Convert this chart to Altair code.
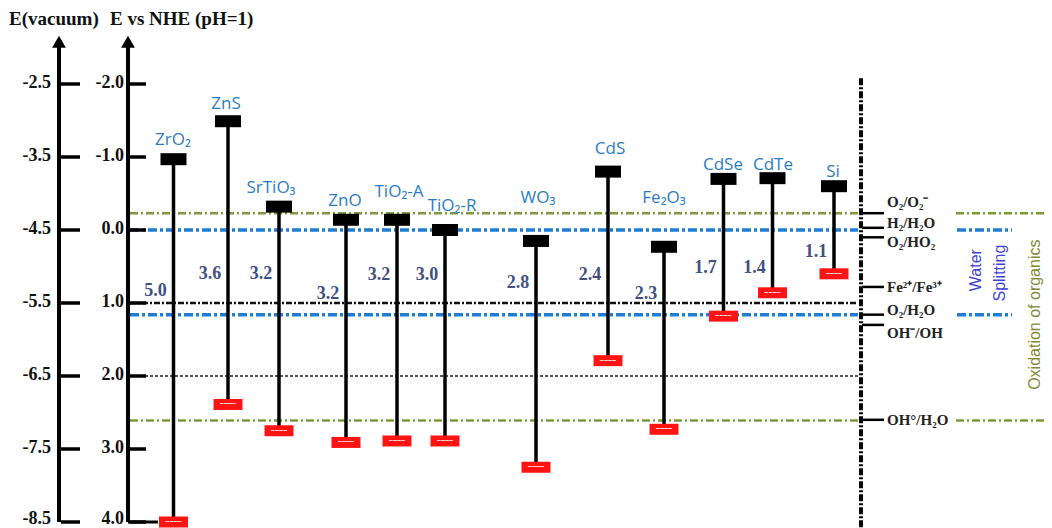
import altair as alt
import pandas as pd

# ---------------- data ----------------
materials = ["ZrO₂", "ZnS", "SrTiO₃", "ZnO", "TiO₂-A", "TiO₂-R", "WO₃", "CdS", "Fe₂O₃", "CdSe", "CdTe", "Si"]
cb_nhe = [-0.97, -1.49, -0.32, -0.14, -0.14, 0.00, 0.15, -0.80, 0.23, -0.70, -0.71, -0.60]
vb_nhe = [4.00, 2.39, 2.75, 2.91, 2.89, 2.89, 3.25, 1.79, 2.73, 1.18, 0.86, 0.60]
gap_text = ["5.0", "3.6", "3.2", "3.2", "3.2", "3.0", "2.8", "2.4", "2.3", "1.7", "1.4", "1.1"]

nhe_ticks = [-2, -1, 0, 1, 2, 3, 4]
nhe_labels = ["-2.0", "-1.0", "0.0", "1.0", "2.0", "3.0", "4.0"]
vac_labels = ["-2.5", "-3.5", "-4.5", "-5.5", "-6.5", "-7.5", "-8.5"]

olive_levels = [-0.23, 2.61]
blue_levels = [0.00, 1.16]
black_dashdot_levels = [1.00]
black_dotted_levels = [2.00]

redox_labels = ["O₂/O₂⁻", "H₂/H₂O", "O₂/HO₂", "Fe²⁺/Fe³⁺", "O₂/H₂O", "OH⁻/OH", "OH°/H₂O"]
redox_pot = [-0.23, -0.03, 0.10, 0.78, 1.16, 1.30, 2.60]

# ---------------- layout (horizontal slots / label placement) ----------------
col_x = [173.5, 228, 279, 346, 397, 445, 536, 608, 664, 723.5, 772.5, 834]
name_x = [173, 226, 271, 345, 399, 452, 538, 610, 664, 723, 773, 833]
name_y = [-1.23, -1.73, -0.58, -0.40, -0.52, -0.33, -0.44, -1.11, -0.44, -0.89, -0.89, -0.79]
gap_y = [0.84, 0.60, 0.60, 0.88, 0.62, 0.62, 0.73, 0.62, 0.88, 0.52, 0.52, 0.30]
redox_label_y = [-0.38, -0.10, 0.16, 0.78, 1.10, 1.41, 2.60]

W, H = 1036, 520
xs = alt.Scale(domain=[8, 8 + W], nice=False, zero=False)
ys = alt.Scale(domain=[(8 - 230) / 73, (8 + H - 230) / 73], nice=False, zero=False, reverse=True)


def X(f):
    return alt.X(f, type="quantitative", scale=xs, axis=None)


def Y(f):
    return alt.Y(f, type="quantitative", scale=ys, axis=None)


SERIF = "Liberation Serif"

mat = pd.DataFrame({
    "name": materials, "cb": cb_nhe, "vb": vb_nhe, "gap": gap_text,
    "cx": col_x, "nx": name_x, "ny": name_y, "gy": gap_y,
})
ticks = pd.DataFrame({"v": nhe_ticks, "nhe": nhe_labels, "vac": vac_labels})
redox = pd.DataFrame({"label": redox_labels, "pot": redox_pot, "ly": redox_label_y})


def hlines(levels, x1, x2, color, width, dash):
    return (alt.Chart(pd.DataFrame({"v": levels}))
            .transform_calculate(a=str(x1), b=str(x2))
            .mark_rule(color=color, strokeWidth=width, strokeDash=dash)
            .encode(x=X("a"), x2=alt.X2("b"), y=Y("v")))


OLIVE = "#7c9a3a"
BLUE = "#1f7dd4"
layers = []

# reference levels across the diagram
layers.append(hlines(olive_levels, 130, 858, OLIVE, 2.5, [8, 3, 2, 3]))
layers.append(hlines(black_dotted_levels, 130, 858, "#222222", 1.5, [3, 2]))
layers.append(hlines(black_dashdot_levels, 130, 858, "#111111", 2.5, [6, 2, 2, 2]))
layers.append(hlines(blue_levels, 130, 858, BLUE, 3.5, [9, 3, 3, 3]))
# right-hand segments
layers.append(hlines(olive_levels, 956, 1044, OLIVE, 2.5, [8, 3, 2, 3]))
layers.append(hlines(blue_levels, 957, 1012, BLUE, 3.5, [9, 3, 3, 3]))

# left axes
axis_df = pd.DataFrame({"top": [-2.55], "bot": [4.0]})
for ax_x in (59, 128):
    layers.append(alt.Chart(axis_df).transform_calculate(a=str(ax_x))
                  .mark_rule(color="black", strokeWidth=4)
                  .encode(x=X("a"), y=Y("top"), y2=alt.Y2("bot")))
    layers.append(alt.Chart(pd.DataFrame({"v": [-2.58]})).transform_calculate(a=str(ax_x))
                  .mark_point(shape="triangle-up", filled=True, size=190, color="black", opacity=1)
                  .encode(x=X("a"), y=Y("v")))
layers.append(alt.Chart(ticks).transform_calculate(a="61", b="80")
              .mark_rule(color="black", strokeWidth=3.5)
              .encode(x=X("a"), x2=alt.X2("b"), y=Y("v")))
layers.append(alt.Chart(ticks).transform_calculate(a="129", b="146")
              .mark_rule(color="black", strokeWidth=3.5)
              .encode(x=X("a"), x2=alt.X2("b"), y=Y("v")))
layers.append(alt.Chart(pd.DataFrame({"v": [4.0]})).transform_calculate(a="128", b="158")
              .mark_rule(color="black", strokeWidth=3)
              .encode(x=X("a"), x2=alt.X2("b"), y=Y("v")))
for field, lx in (("vac", 51), ("nhe", 124)):
    base = alt.Chart(ticks).transform_calculate(a=str(lx))
    layers.append(base.transform_filter("datum.v < 4")
                  .mark_text(align="right", baseline="middle", font=SERIF, fontWeight="bold", fontSize=18, color="#111", dy=-1)
                  .encode(x=X("a"), y=Y("v"), text=f"{field}:N"))
    layers.append(base.transform_filter("datum.v >= 4")
                  .mark_text(align="right", baseline="bottom", font=SERIF, fontWeight="bold", fontSize=18, color="#111", dy=6)
                  .encode(x=X("a"), y=Y("v"), text=f"{field}:N"))

# titles
titles = pd.DataFrame({"t": ["E(vacuum)", "E vs NHE (pH=1)"], "x": [9, 110], "y": [-2.89, -2.89]})
layers.append(alt.Chart(titles)
              .mark_text(align="left", baseline="middle", font=SERIF, fontWeight="bold", fontSize=19, color="#111")
              .encode(x=X("x"), y=Y("y"), text="t:N"))

# right vertical separator
layers.append(alt.Chart(pd.DataFrame({"top": [-2.08], "bot": [4.1]})).transform_calculate(a="861")
              .mark_rule(color="black", strokeWidth=4, strokeDash=[7, 2, 2, 2])
              .encode(x=X("a"), y=Y("top"), y2=alt.Y2("bot")))

# material band edges
layers.append(alt.Chart(mat).mark_rule(color="black", strokeWidth=3.5)
              .encode(x=X("cx"), y=Y("cb"), y2=alt.Y2("vb")))
layers.append(alt.Chart(mat).mark_tick(orient="horizontal", size=26, thickness=12, color="black", opacity=1)
              .encode(x=X("cx"), y=Y("cb")))
layers.append(alt.Chart(mat).mark_tick(orient="horizontal", size=29, thickness=11, color="#ff1414", opacity=1)
              .encode(x=X("cx"), y=Y("vb")))
layers.append(alt.Chart(mat).transform_calculate(w="'~~~~'")
              .mark_text(fontSize=7, color="white", baseline="middle", fontWeight="bold")
              .encode(x=X("cx"), y=Y("vb"), text="w:N"))
layers.append(alt.Chart(mat)
              .mark_text(font="Open Sans", fontSize=17, color="#2b7cc4", baseline="middle")
              .encode(x=X("nx"), y=Y("ny"), text="name:N"))
layers.append(alt.Chart(mat).transform_calculate(gx="datum.cx - 18")
              .mark_text(font=SERIF, fontWeight="bold", fontSize=18, color="#3f5082", baseline="middle")
              .encode(x=X("gx"), y=Y("gy"), text="gap:N"))

# redox couples on the right
layers.append(alt.Chart(redox).transform_calculate(a="862", b="884")
              .mark_rule(color="black", strokeWidth=2.5)
              .encode(x=X("a"), x2=alt.X2("b"), y=Y("pot")))
layers.append(alt.Chart(redox).transform_calculate(a="887")
              .mark_text(align="left", baseline="middle", font=SERIF, fontWeight="bold", fontSize=15, color="#222")
              .encode(x=X("a"), y=Y("ly"), text="label:N"))

# side annotations
side = pd.DataFrame({"t": ["Water", "Splitting"], "x": [976, 1000], "y": [0.55, 0.59]})
layers.append(alt.Chart(side)
              .mark_text(angle=270, baseline="middle", align="center", font="Liberation Sans", fontSize=16, color="#3f3fd8")
              .encode(x=X("x"), y=Y("y"), text="t:N"))
org = pd.DataFrame({"t": ["Oxidation of organics"], "x": [1035], "y": [1.16]})
layers.append(alt.Chart(org)
              .mark_text(angle=270, baseline="middle", align="center", font="Liberation Sans", fontSize=16, color="#7d8a35")
              .encode(x=X("x"), y=Y("y"), text="t:N"))

chart = (alt.layer(*layers)
         .properties(width=W, height=H, autosize="none", padding=0)
         .configure_view(stroke=None))

chart.save("out.html", embed_options={"renderer": "svg", "actions": False})
